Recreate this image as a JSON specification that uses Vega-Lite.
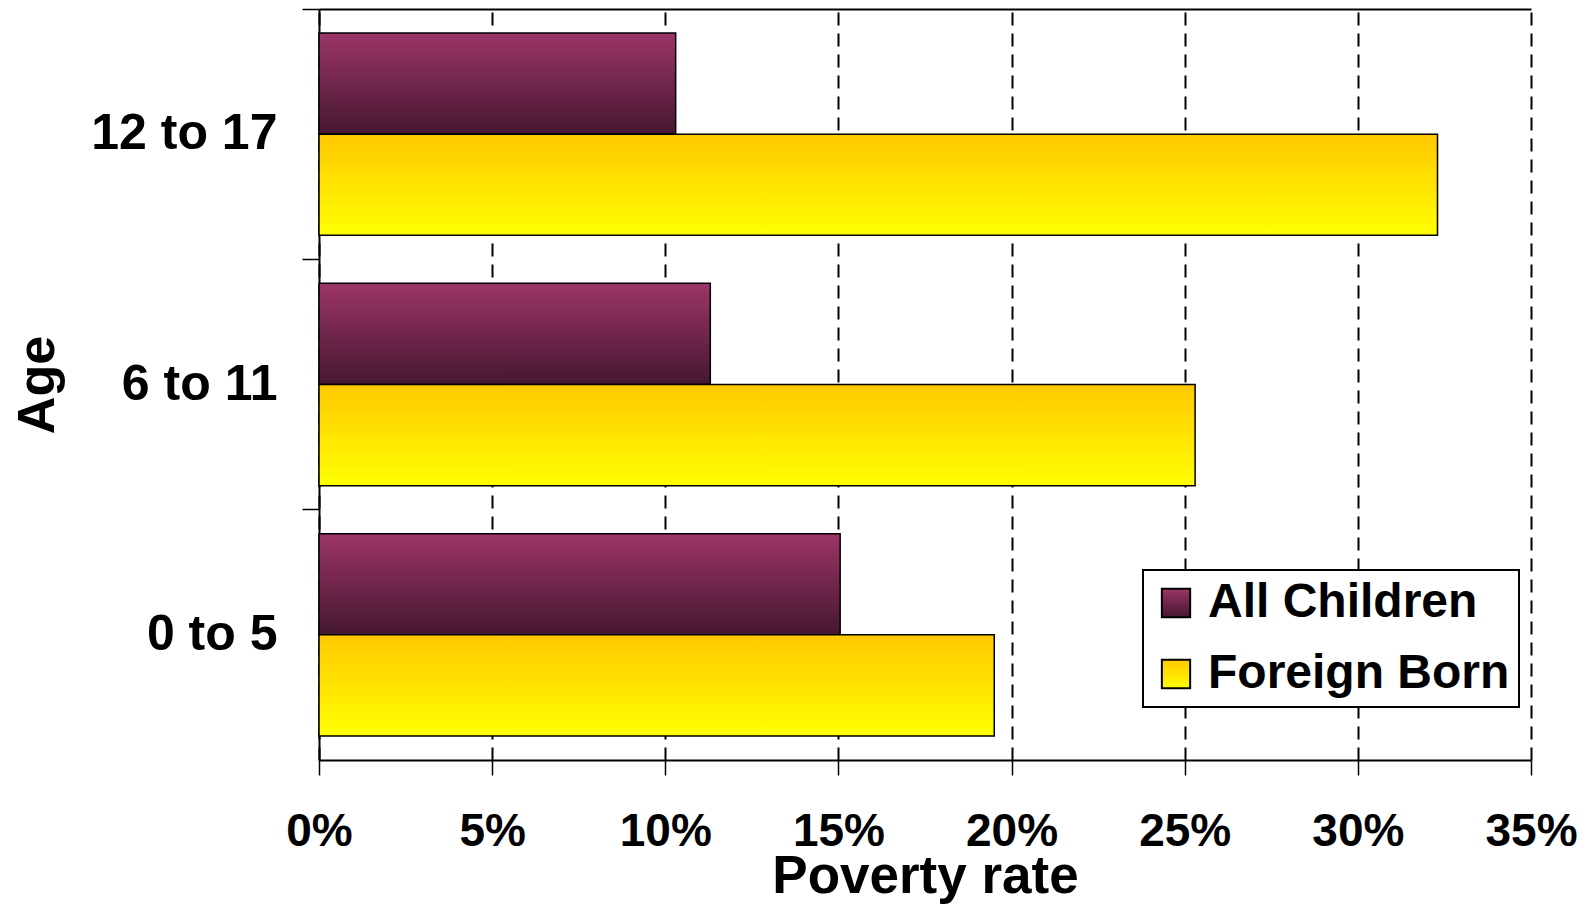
{
  "$schema": "https://vega.github.io/schema/vega-lite/v6.json",
  "autosize": {"type": "none"},
  "padding": {"left": 319, "top": 9, "right": 59, "bottom": 145},
  "width": 1212,
  "height": 751,
  "background": "white",
  "config": {
    "view": {"stroke": null},
    "font": "Liberation Sans",
    "legend": {"strokeWidth": 2}
  },
  "data": {
    "values": [
      {"age": "12 to 17", "group": "All Children", "rate": 10.3},
      {"age": "12 to 17", "group": "Foreign Born", "rate": 32.3},
      {"age": "6 to 11", "group": "All Children", "rate": 11.3},
      {"age": "6 to 11", "group": "Foreign Born", "rate": 25.3},
      {"age": "0 to 5", "group": "All Children", "rate": 15.05},
      {"age": "0 to 5", "group": "Foreign Born", "rate": 19.5}
    ]
  },
  "resolve": {"axis": {"x": "independent"}},
  "layer": [
    {
      "mark": {"type": "bar", "stroke": "black", "strokeWidth": 1.5, "fillOpacity": 1},
      "encoding": {
        "y": {
          "field": "age", "type": "nominal",
          "sort": ["12 to 17", "6 to 11", "0 to 5"],
          "scale": {"paddingInner": 0, "paddingOuter": 0},
          "axis": {
            "title": "Age", "titleFontSize": 52, "titleFontWeight": "bold", "titleColor": "black",
            "titleBaseline": "alphabetic", "titleX": -266, "titleAngle": -90,
            "labelFontSize": 50, "labelFontWeight": "bold", "labelColor": "black", "labelPadding": 25,
            "labelLimit": 0,
            "bandPosition": 0, "tickSize": 17, "tickColor": "black", "tickWidth": 1.5,
            "domainColor": "black", "domainWidth": 2, "grid": false
          }
        },
        "yOffset": {
          "field": "group", "type": "nominal",
          "sort": ["All Children", "Foreign Born"],
          "scale": {"paddingInner": 0, "paddingOuter": 0.2376}
        },
        "x": {
          "field": "rate", "type": "quantitative",
          "scale": {"domain": [0, 35], "nice": false},
          "axis": {
            "values": [0, 5, 10, 15, 20, 25, 30, 35],
            "labelExpr": "datum.value + '%'",
            "labelFontSize": 46, "labelFontWeight": "bold", "labelColor": "black",
            "labelBaseline": "alphabetic", "labelPadding": 70, "labelOverlap": false, "labelFlush": false,
            "tickSize": 15, "tickColor": "black", "tickWidth": 1.5,
            "domainColor": "black", "domainWidth": 2,
            "grid": true, "gridColor": "black", "gridWidth": 2, "gridDash": [13, 8],
            "title": "Poverty rate", "titleFontSize": 53, "titleFontWeight": "bold", "titleColor": "black",
            "titleBaseline": "alphabetic", "titleY": 132
          }
        },
        "fill": {
          "condition": {
            "test": "datum.group === 'All Children'",
            "value": {"gradient": "linear", "x1": 0, "y1": 0, "x2": 0, "y2": 1,
                      "stops": [{"offset": 0, "color": "#9C3568"}, {"offset": 1, "color": "#461730"}]}
          },
          "value": {"gradient": "linear", "x1": 0, "y1": 0, "x2": 0, "y2": 1,
                    "stops": [{"offset": 0, "color": "#FFC800"}, {"offset": 1, "color": "#FFFF00"}]}
        }
      }
    },
    {
      "transform": [{"filter": "datum.rate < 0"}],
      "mark": {"type": "bar", "strokeWidth": 2, "fillOpacity": 1},
      "encoding": {
        "x": {
          "field": "rate", "type": "quantitative",
          "axis": {"orient": "top", "labels": false, "ticks": false, "grid": false, "title": null,
                   "domainColor": "black", "domainWidth": 2}
        },
        "fill": {
          "value": {"expr": "datum.value === 'All Children' ? {gradient: 'linear', x1: 0, y1: 0, x2: 0, y2: 1, stops: [{offset: 0, color: '#9C3568'}, {offset: 1, color: '#461730'}]} : {gradient: 'linear', x1: 0, y1: 0, x2: 0, y2: 1, stops: [{offset: 0, color: '#FFC800'}, {offset: 1, color: '#FFFF00'}]}"}
        },
        "stroke": {
          "field": "group", "type": "nominal",
          "scale": {"domain": ["All Children", "Foreign Born"], "range": ["black", "black"]},
          "legend": {
            "title": null, "orient": "none", "legendX": 824, "legendY": 561,
            "fillColor": "white", "strokeColor": "black", "padding": 9,
            "labelFontSize": 48, "labelFontWeight": "bold", "labelColor": "black",
            "labelOffset": 8, "rowPadding": 23, "labelLimit": 0,
            "symbolType": "square", "symbolSize": 800, "symbolStrokeWidth": 2,
            "symbolOpacity": 1
          }
        }
      }
    }
  ]
}
